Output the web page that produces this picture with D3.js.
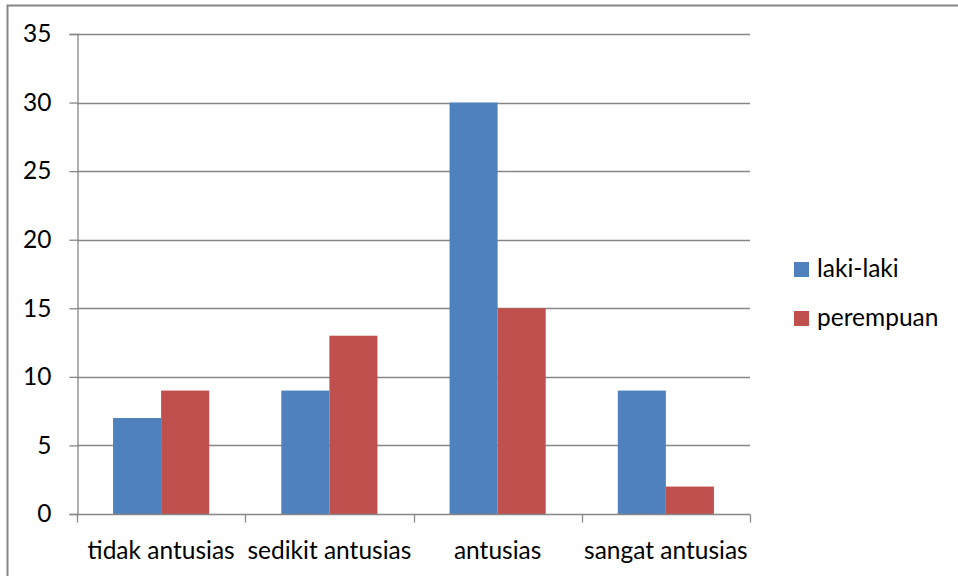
<!DOCTYPE html>
<html>
<head>
<meta charset="utf-8">
<script src="https://cdn.jsdelivr.net/npm/d3@7/dist/d3.min.js"></script>
<style>
  html, body { margin: 0; padding: 0; background: #fff; }
  svg { display: block; }
  text { font-family: Lato, "Open Sans", sans-serif; fill: #000; }
</style>
</head>
<body>
<svg id="chart" width="958" height="576"></svg>
<script>
const categories = ["tidak antusias", "sedikit antusias", "antusias", "sangat antusias"];
const seriesNames = ["laki-laki", "perempuan"];
const lakiLaki = [7, 9, 30, 9];
const perempuan = [9, 13, 15, 2];
const yTicks = [0, 5, 10, 15, 20, 25, 30, 35];
const colors = ["#4F81BD", "#C0504D"];

const svg = d3.select("#chart");
const plot = { left: 77, right: 750, top: 34, bottom: 514 };
const fontSize = 24.5;

// outer chart frame
svg.append("rect")
  .attr("x", 7.5).attr("y", 5.5)
  .attr("width", 960).attr("height", 580)
  .attr("fill", "none").attr("stroke", "#868686").attr("stroke-width", 2);

const x0 = d3.scaleBand().domain(categories).range([plot.left, plot.right]).paddingInner(0).paddingOuter(0);
const gapRatio = 1.5;
const barW = x0.bandwidth() / (seriesNames.length + gapRatio);
const x1 = d3.scaleBand().domain(seriesNames)
  .range([x0.bandwidth() / 2 - barW, x0.bandwidth() / 2 + barW]);

const y = d3.scaleLinear().domain([0, 35]).range([plot.bottom, plot.top]);

// horizontal gridlines
svg.append("g").selectAll("line").data(yTicks.filter(t => t > 0)).join("line")
  .attr("x1", plot.left).attr("x2", plot.right)
  .attr("y1", d => Math.round(y(d)) + 0.5).attr("y2", d => Math.round(y(d)) + 0.5)
  .attr("stroke", "#868686").attr("stroke-width", 1.3);

// bars
const series = [lakiLaki, perempuan];
const groups = svg.append("g").selectAll("g").data(categories).join("g")
  .attr("transform", d => `translate(${x0(d)},0)`);
groups.selectAll("rect")
  .data((c, i) => seriesNames.map((s, k) => ({ s, v: series[k][i], k })))
  .join("rect")
  .attr("x", d => x1(d.s))
  .attr("width", x1.bandwidth())
  .attr("y", d => y(d.v))
  .attr("height", d => y(0) - y(d.v))
  .attr("fill", d => colors[d.k]);

// y axis
const yAxis = d3.axisLeft(y).tickValues(yTicks).tickSize(8).tickPadding(18).tickFormat(d3.format("d"));
const gy = svg.append("g").attr("transform", `translate(${plot.left + 0.5},0)`).call(yAxis);
gy.select(".domain").attr("stroke", "#868686").attr("stroke-width", 1.3);
gy.selectAll(".tick line").attr("stroke", "#868686").attr("stroke-width", 1.3);
gy.selectAll(".tick text").attr("font-size", fontSize).style("font-family", "Lato, sans-serif");

// x axis
const gx = svg.append("g").attr("transform", `translate(0,${plot.bottom + 0.5})`);
gx.append("line").attr("x1", plot.left).attr("x2", plot.right)
  .attr("stroke", "#868686").attr("stroke-width", 1.3);
const boundaries = categories.map(c => x0(c)).concat([plot.right]);
gx.selectAll("line.tk").data(boundaries).join("line").attr("class", "tk")
  .attr("x1", d => Math.round(d) + 0.5).attr("x2", d => Math.round(d) + 0.5)
  .attr("y1", 0).attr("y2", 8)
  .attr("stroke", "#868686").attr("stroke-width", 1.3);
gx.selectAll("text").data(categories).join("text")
  .attr("x", d => x0(d) + x0.bandwidth() / 2)
  .attr("y", 44)
  .attr("text-anchor", "middle")
  .attr("font-size", fontSize)
  .text(d => d);

// legend
const legend = svg.append("g").selectAll("g").data(seriesNames).join("g")
  .attr("transform", (d, i) => `translate(794,${262 + i * 49})`);
legend.append("rect").attr("width", 15).attr("height", 15).attr("fill", (d, i) => colors[i]);
legend.append("text").attr("x", 23).attr("y", 15).attr("font-size", fontSize).text(d => d);
</script>
</body>
</html>
